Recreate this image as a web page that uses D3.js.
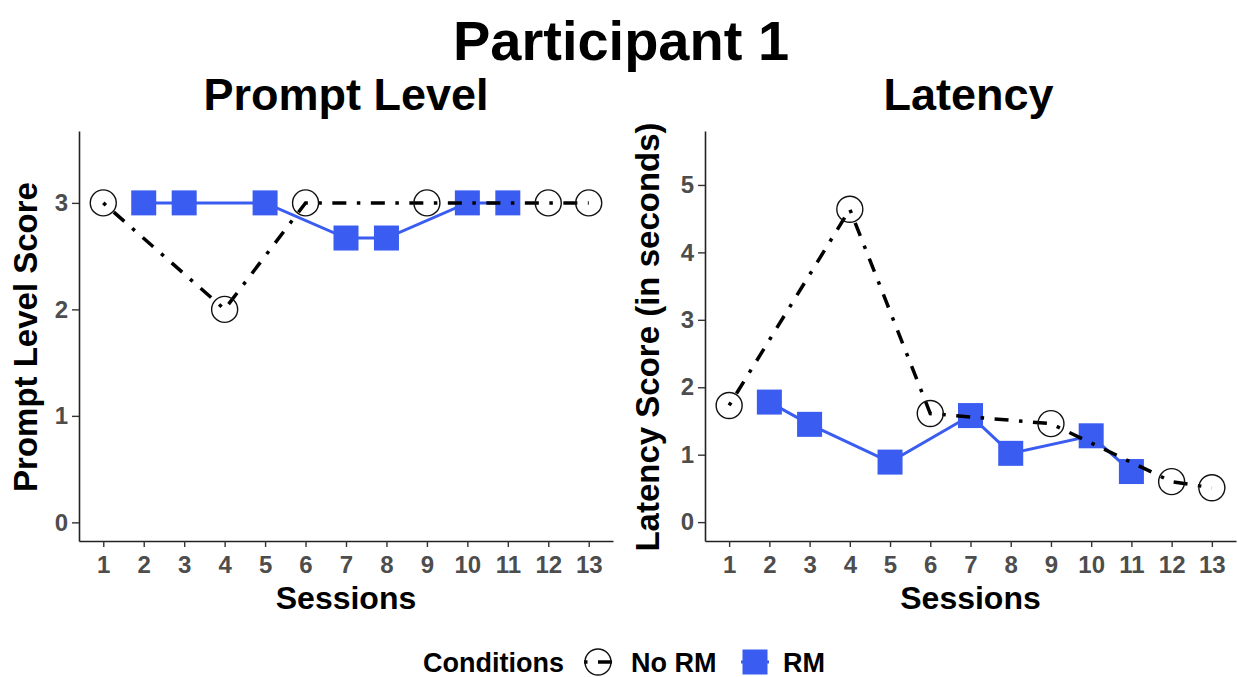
<!DOCTYPE html>
<html lang="en">
<head>
    <meta charset="UTF-8">
    <title>Participant 1</title>
    <script src="https://d3js.org/d3.v7.min.js"></script>
    <style>
        body {margin:0;background:#fff}
        svg text {font-family:"Liberation Sans", Arial, sans-serif;font-weight:bold}
    </style>
</head>
<body>
    <div id="chart"></div>
    <script>
        // values
        var sessions = [1, 2, 3, 4, 5, 6, 7, 8, 9, 10, 11, 12, 13];
        var noRmSessions = [1, 4, 6, 9, 12, 13];
        var rmSessions = [2, 3, 5, 7, 8, 10, 11];
        var promptNoRm = [3, 2, 3, 3, 3, 3];
        var promptRm = [3, 3, 3, 2.67, 2.67, 3, 3];
        var latencyNoRm = [1.73, 4.64, 1.61, 1.46, 0.6, 0.51];
        var latencyRm = [1.78, 1.45, 0.89, 1.58, 1.02, 1.28, 0.75];
        var promptTicks = [0, 1, 2, 3];
        var latencyTicks = [0, 1, 2, 3, 4, 5];

        var blue = "#3a5cf0";
        var W = 1238, H = 677;

        var svg = d3.select("#chart")
            .append("svg")
            .attr("width", W)
            .attr("height", H);

        svg.append("text")
            .attr("x", 621)
            .attr("y", 60)
            .attr("text-anchor", "middle")
            .style("font-size", "56px")
            .text("Participant 1");

        function zip(xs, ys) {
            return xs.map((x, i) => ({x: x, y: ys[i]}));
        }

        function drawPanel(p) {
            var x = d3.scaleLinear().domain([0.4, 13.6]).range([p.left, p.right]);
            var y = d3.scaleLinear().domain(p.yDomain).range([541, 131]);
            var g = svg.append("g");

            g.append("text")
                .attr("x", (p.left + p.right) / 2 + p.titleShift)
                .attr("y", 110)
                .attr("text-anchor", "middle")
                .style("font-size", "45px")
                .text(p.title);

            var xAxis = g.append("g")
                .attr("transform", `translate(0,541)`)
                .call(d3.axisBottom(x).tickValues(sessions).tickFormat(d3.format("d"))
                    .tickSize(6).tickPadding(4).tickSizeOuter(0));
            var yAxis = g.append("g")
                .attr("transform", `translate(${p.left},0)`)
                .call(d3.axisLeft(y).tickValues(p.ticks).tickFormat(d3.format("d"))
                    .tickSize(7).tickPadding(4).tickSizeOuter(0));
            [xAxis, yAxis].forEach(a => {
                a.select(".domain").attr("stroke", "#222").attr("stroke-width", 1.6);
                a.selectAll(".tick line").attr("stroke", "#333").attr("stroke-width", 1.4);
                a.selectAll(".tick text")
                    .attr("fill", "#4d4d4d")
                    .style("font-size", "24px")
                    .style("font-family", "'Liberation Sans', Arial, sans-serif");
            });
            xAxis.selectAll(".tick text").attr("dy", "0.9em");

            g.append("text")
                .attr("x", (p.left + p.right) / 2)
                .attr("y", 609)
                .attr("text-anchor", "middle")
                .style("font-size", "32px")
                .text("Sessions");

            g.append("text")
                .attr("transform", "rotate(-90)")
                .attr("x", -337)
                .attr("y", p.left - p.labelGap)
                .attr("text-anchor", "middle")
                .style("font-size", "33px")
                .text(p.yLabel);

            var line = d3.line().x(d => x(d.x)).y(d => y(d.y));
            var rm = zip(rmSessions, p.rm);
            var noRm = zip(noRmSessions, p.noRm);

            g.append("path")
                .datum(rm)
                .attr("d", line)
                .attr("fill", "none")
                .attr("stroke", blue)
                .attr("stroke-width", 3);

            g.selectAll(".sq")
                .data(rm)
                .enter()
                .append("rect")
                .attr("x", d => x(d.x) - 12.5)
                .attr("y", d => y(d.y) - 12.5)
                .attr("width", 25)
                .attr("height", 25)
                .attr("fill", blue);

            g.append("path")
                .datum(noRm)
                .attr("d", line)
                .attr("fill", "none")
                .attr("stroke", "#000")
                .attr("stroke-width", 3.5)
                .attr("stroke-dasharray", "3.5 10.5 14 10.5");

            g.selectAll(".ci")
                .data(noRm)
                .enter()
                .append("circle")
                .attr("cx", d => x(d.x))
                .attr("cy", d => y(d.y))
                .attr("r", 13)
                .attr("fill", "none")
                .attr("stroke", "#111")
                .attr("stroke-width", 1.4);
        }

        drawPanel({
            left: 79, right: 613, yDomain: [-0.175, 3.675], ticks: promptTicks,
            title: "Prompt Level", titleShift: 0, yLabel: "Prompt Level Score", labelGap: 42,
            noRm: promptNoRm, rm: promptRm
        });
        drawPanel({
            left: 705, right: 1236, yDomain: [-0.28, 5.8], ticks: latencyTicks,
            title: "Latency", titleShift: -2, yLabel: "Latency Score (in seconds)", labelGap: 46,
            noRm: latencyNoRm, rm: latencyRm
        });

        // legend
        var leg = svg.append("g");
        leg.append("text")
            .attr("x", 423).attr("y", 672)
            .style("font-size", "27px")
            .text("Conditions");
        leg.append("line")
            .attr("x1", 584).attr("x2", 612).attr("y1", 662).attr("y2", 662)
            .attr("stroke", "#000").attr("stroke-width", 3.5)
            .attr("stroke-dasharray", "3.5 10.5 14 10.5");
        leg.append("circle")
            .attr("cx", 598).attr("cy", 662).attr("r", 13)
            .attr("fill", "none").attr("stroke", "#111").attr("stroke-width", 1.4);
        leg.append("text")
            .attr("x", 631).attr("y", 672)
            .style("font-size", "27px")
            .text("No RM");
        leg.append("line")
            .attr("x1", 741).attr("x2", 769).attr("y1", 662).attr("y2", 662)
            .attr("stroke", blue).attr("stroke-width", 3);
        leg.append("rect")
            .attr("x", 742.5).attr("y", 649.5).attr("width", 25).attr("height", 25)
            .attr("fill", blue);
        leg.append("text")
            .attr("x", 783).attr("y", 672)
            .style("font-size", "27px")
            .text("RM");
    </script>
</body>
</html>
